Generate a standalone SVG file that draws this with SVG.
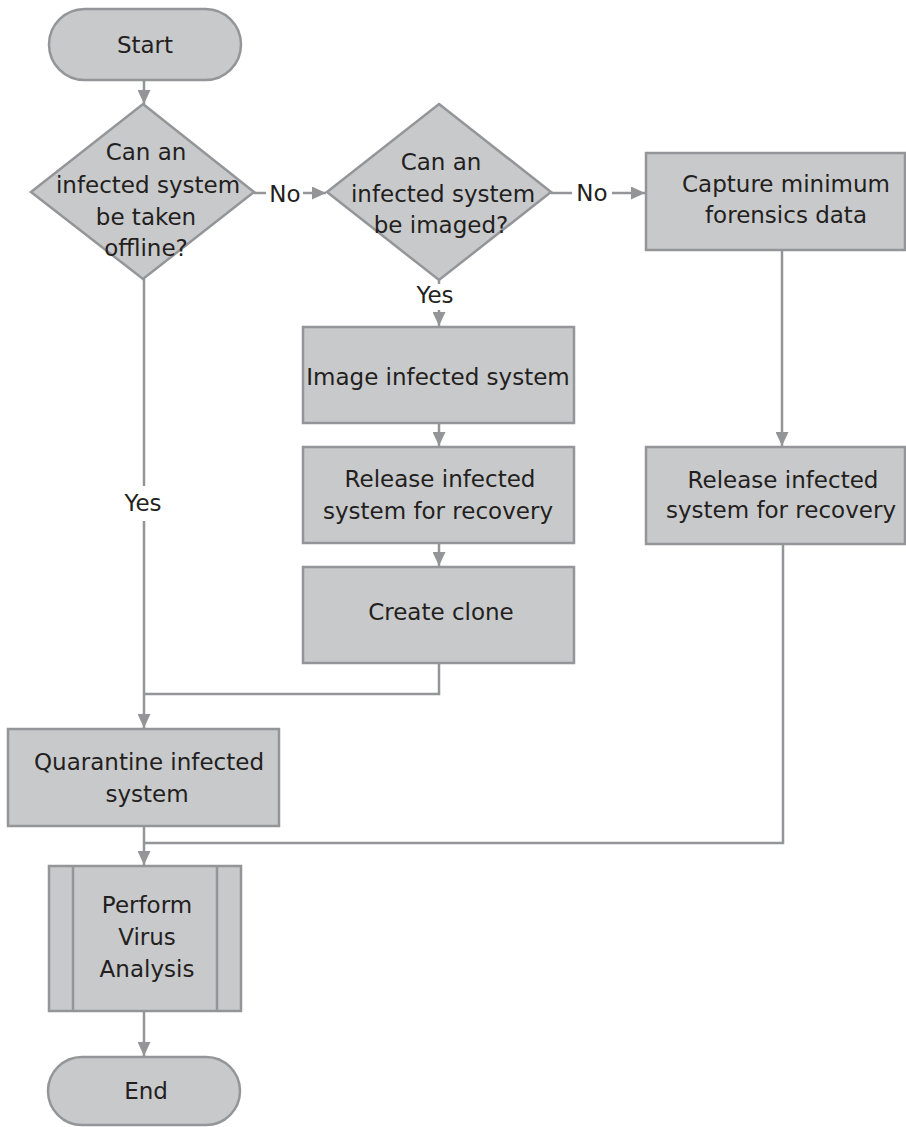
<svg xmlns="http://www.w3.org/2000/svg" width="906" height="1127" viewBox="0 0 906 1127">
<defs>
<marker id="arr" viewBox="0 0 14 13" refX="14" refY="6.5" markerWidth="14" markerHeight="13" markerUnits="userSpaceOnUse" orient="auto">
<path d="M0,0 L14,6.5 L0,13 Z" fill="#939598"/>
</marker>
<style>
.shape{fill:#c8c9cb;stroke:#939598;stroke-width:2.5}
.line{fill:none;stroke:#939598;stroke-width:2.5}
.t{font-family:"DejaVu Sans",sans-serif;font-size:23px;fill:#231f20;text-anchor:middle}
</style>
</defs>
<rect width="906" height="1127" fill="#ffffff"/>
<g id="connectors">
<line class="line" x1="144" y1="80" x2="144" y2="104" marker-end="url(#arr)"/>
<line class="line" x1="254" y1="193" x2="266" y2="193"/>
<line class="line" x1="303" y1="193" x2="326" y2="193" marker-end="url(#arr)"/>
<line class="line" x1="551" y1="193" x2="572" y2="193"/>
<line class="line" x1="612" y1="193" x2="645" y2="193" marker-end="url(#arr)"/>
<line class="line" x1="439" y1="280" x2="439" y2="284"/>
<line class="line" x1="439" y1="310" x2="439" y2="326" marker-end="url(#arr)"/>
<line class="line" x1="439" y1="423" x2="439" y2="446" marker-end="url(#arr)"/>
<line class="line" x1="439" y1="543" x2="439" y2="566" marker-end="url(#arr)"/>
<line class="line" x1="782" y1="250" x2="782" y2="446" marker-end="url(#arr)"/>
<line class="line" x1="144" y1="279" x2="144" y2="486"/>
<polyline class="line" points="144,521 144,694 144,728" marker-end="url(#arr)"/>
<polyline class="line" points="439,663 439,694 144,694"/>
<polyline class="line" points="783,544 783,843 144,843"/>
<line class="line" x1="144" y1="826" x2="144" y2="865" marker-end="url(#arr)"/>
<line class="line" x1="144" y1="1011" x2="144" y2="1056" marker-end="url(#arr)"/>
<text class="t" x="285" y="202">No</text>
<text class="t" x="592" y="201">No</text>
<text class="t" x="435" y="303">Yes</text>
<text class="t" x="143" y="511">Yes</text>
</g>
<g id="start">
<rect class="shape" x="49" y="9" width="192" height="71" rx="35.5"/>
<text class="t" x="145" y="53">Start</text>
</g>
<g id="decision-offline">
<polygon class="shape" points="143,104 254,192 143,279 31,192"/>
<text class="t" x="146" y="160">Can an</text>
<text class="t" x="148" y="193">infected system</text>
<text class="t" x="146" y="225">be taken</text>
<text class="t" x="146" y="256">offline?</text>
</g>
<g id="decision-imaged">
<polygon class="shape" points="439,104 551,192 439,280 327,192"/>
<text class="t" x="441" y="170">Can an</text>
<text class="t" x="443" y="202">infected system</text>
<text class="t" x="441" y="233">be imaged?</text>
</g>
<g id="capture">
<rect class="shape" x="646" y="153" width="259" height="97"/>
<text class="t" x="786" y="192">Capture minimum</text>
<text class="t" x="786" y="223">forensics data</text>
</g>
<g id="image-system">
<rect class="shape" x="303" y="327" width="271" height="96"/>
<text class="t" x="438" y="385">Image infected system</text>
</g>
<g id="release-1">
<rect class="shape" x="303" y="447" width="271" height="96"/>
<text class="t" x="440" y="487">Release infected</text>
<text class="t" x="438" y="519">system for recovery</text>
</g>
<g id="create-clone">
<rect class="shape" x="303" y="567" width="271" height="96"/>
<text class="t" x="441" y="620">Create clone</text>
</g>
<g id="release-2">
<rect class="shape" x="646" y="447" width="259" height="97"/>
<text class="t" x="783" y="488">Release infected</text>
<text class="t" x="781" y="518">system for recovery</text>
</g>
<g id="quarantine">
<rect class="shape" x="8" y="729" width="271" height="97"/>
<text class="t" x="149" y="770">Quarantine infected</text>
<text class="t" x="147" y="802">system</text>
</g>
<g id="analysis">
<rect class="shape" x="49" y="866" width="192" height="145"/>
<line class="line" x1="73" y1="866" x2="73" y2="1011"/>
<line class="line" x1="217" y1="866" x2="217" y2="1011"/>
<text class="t" x="147" y="913">Perform</text>
<text class="t" x="147" y="945">Virus</text>
<text class="t" x="147" y="977">Analysis</text>
</g>
<g id="end">
<rect class="shape" x="48" y="1057" width="192" height="68" rx="34"/>
<text class="t" x="146" y="1099">End</text>
</g>
</svg>
